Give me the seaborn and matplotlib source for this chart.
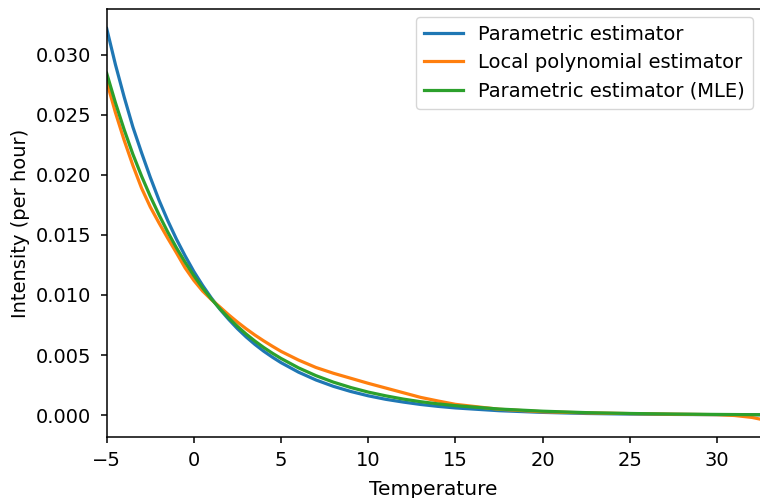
import matplotlib
matplotlib.use("Agg")
import matplotlib.pyplot as plt
import seaborn as sns
import pandas as pd

temperature = [-5, -4.5, -4, -3.5, -3, -2.5, -2, -1.5, -1, -0.5, 0, 0.5, 1, 1.5, 2, 2.5,
               3, 3.5, 4, 4.5, 5, 6, 7, 8, 9, 10, 11, 12, 13, 14, 15, 17.5, 20, 22.5,
               25, 27.5, 30, 31, 32, 32.5]

parametric = [0.03220, 0.02920, 0.02650, 0.02400, 0.02185, 0.01980, 0.01790, 0.01620,
              0.01465, 0.01325, 0.01195, 0.01080, 0.00975, 0.00880, 0.00796, 0.00719,
              0.00650, 0.00588, 0.00532, 0.00482, 0.00436, 0.00357, 0.00292, 0.00239,
              0.00196, 0.00160, 0.00131, 0.00108, 0.00088, 0.00072, 0.00059, 0.00036,
              0.00022, 0.00013, 0.00008, 0.00005, 0.00003, 0.00003, 0.00002, 0.00002]

local_poly = [0.02778, 0.02520, 0.02290, 0.02080, 0.01890, 0.01733, 0.01600, 0.01473,
              0.01351, 0.01225, 0.01121, 0.01033, 0.00962, 0.00899, 0.00834, 0.00774,
              0.00718, 0.00666, 0.00618, 0.00573, 0.00530, 0.00458, 0.00396, 0.00348,
              0.00306, 0.00264, 0.00225, 0.00186, 0.00147, 0.00117, 0.00089, 0.00048,
              0.00027, 0.00018, 0.00012, 0.00007, 0.00003, -0.00004, -0.00020, -0.00035]

parametric_mle = [0.02847, 0.02602, 0.02378, 0.02173, 0.01990, 0.01822, 0.01668, 0.01525,
                  0.01393, 0.01272, 0.01160, 0.01058, 0.00967, 0.00884, 0.00808, 0.00738,
                  0.00674, 0.00616, 0.00563, 0.00515, 0.00471, 0.00393, 0.00328, 0.00274,
                  0.00229, 0.00191, 0.00160, 0.00133, 0.00111, 0.00093, 0.00078, 0.00050,
                  0.00032, 0.00020, 0.00013, 0.00008, 0.00005, 0.00004, 0.00003, 0.00003]

labels = ["Parametric estimator", "Local polynomial estimator", "Parametric estimator (MLE)"]
colors = ["#1f77b4", "#ff7f0e", "#2ca02c"]

plt.rcParams['font.family'] = ['DejaVu Sans']
plt.rcParams['font.size'] = 14

fig = plt.figure(figsize=(7.6, 4.98), dpi=100)
ax = fig.add_axes([0.1404, 0.1225, 0.8605, 0.8595])

for lab, col, vals in zip(labels, colors, [parametric, local_poly, parametric_mle]):
    df = pd.DataFrame({"Temperature": temperature, "Intensity": vals})
    sns.lineplot(data=df, x="Temperature", y="Intensity", ax=ax, color=col,
                 label=lab, linewidth=2.3)

ax.set_xlim(-5, 32.5)
ax.set_ylim(-0.00183, 0.03383)
ax.set_xlabel("Temperature", fontsize=14.5, labelpad=7)
ax.set_ylabel("Intensity (per hour)", fontsize=14, labelpad=4)
ax.tick_params(axis="y", labelsize=14, length=4.3, width=1.1, pad=7)
ax.tick_params(axis="x", labelsize=14, length=4.3, width=1.1, pad=6)
for s in ax.spines.values():
    s.set_linewidth(1.1)
ax.legend(loc="upper right", fontsize=14, borderaxespad=0.4)

fig.savefig("out.png", dpi=100)
